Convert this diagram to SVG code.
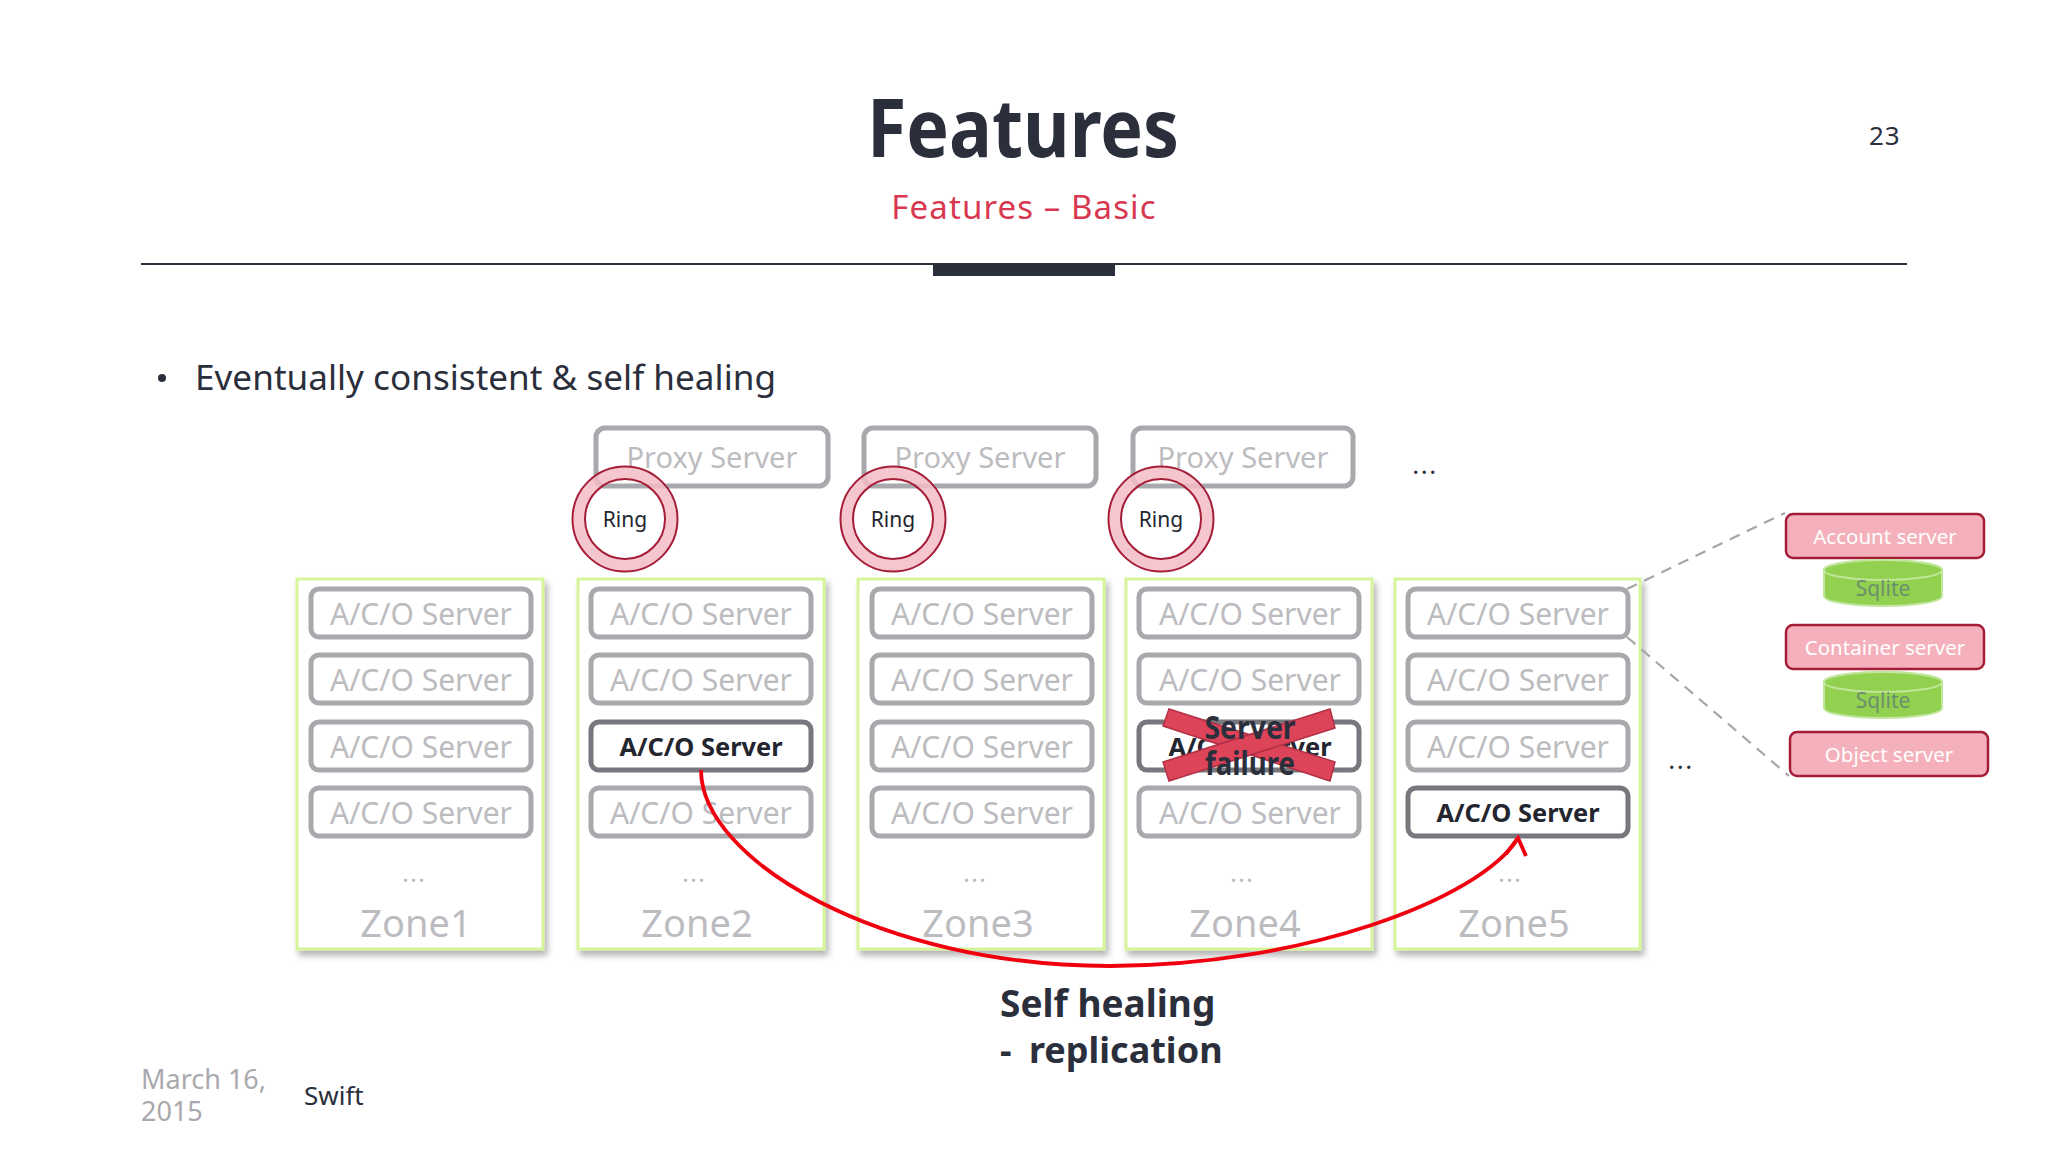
<svg xmlns="http://www.w3.org/2000/svg" width="2048" height="1152" viewBox="0 0 2048 1152">
<style>
text{font-family:"Noto Sans","Open Sans","Liberation Sans",sans-serif;fill:#2b2f3c}
.m{text-anchor:middle}
.zone{fill:#fff;stroke:#d6f59a;stroke-width:3;filter:url(#sh)}
.srv{fill:#fff;stroke:#a9a9ad;stroke-width:5}
.act{stroke:#77777d}
.st{font-size:30px;fill:#bcbcc0;text-anchor:middle}
.pr{font-size:29px}
.bt{font-size:25.4px;font-weight:700;fill:#23252f;text-anchor:middle}
.zl{font-size:38px;fill:#bcbcc0;text-anchor:middle}
.dots{font-size:26px;fill:#bcbcc0;text-anchor:middle;letter-spacing:1px}
.ring{fill:none;stroke:#a51d36;stroke-width:2}
.rb{fill:#f5bcc5;fill-opacity:.85;stroke:none;fill-rule:evenodd}
.rt{font-size:21px;fill:#23252f;text-anchor:middle}
.pk{fill:#f4b1bb;stroke:#a51d36;stroke-width:2.5}
.pt{font-size:20.5px;fill:#fff;text-anchor:middle}
.cy{fill:#92d050;stroke:#bfe69a;stroke-width:2}
.ct{font-size:21px;fill:#6b8f6a;text-anchor:middle}
.dash{fill:none;stroke:#a6a6a6;stroke-width:2.2;stroke-dasharray:11 8}
.x{fill:#dd4459;stroke:#b03045;stroke-width:1.5}
.ft{font-size:27px;fill:#a9a9ad}
.red{fill:none;stroke:#f0000f;stroke-width:3.8}
</style>
<defs>
<filter id="sh" x="-10%" y="-10%" width="125%" height="125%"><feDropShadow dx="3" dy="5" stdDeviation="3" flood-color="#000" flood-opacity=".3"/></filter>
<g id="ringshape"><path class="rb" d="M-52 0a52 52 0 1 0 104 0a52 52 0 1 0 -104 0zM-40 0a40 40 0 1 0 80 0a40 40 0 1 0 -80 0z"/><circle class="ring" r="52.5"/><circle class="ring" r="40"/></g>
</defs>
<rect width="2048" height="1152" fill="#fff"/>
<g id="header">
<text class="m" x="1023" y="157" font-size="80" font-weight="700" textLength="312" lengthAdjust="spacingAndGlyphs">Features</text>
<text class="m" x="1024" y="219" font-size="33" style="fill:#d8384f" letter-spacing="1.1">Features – Basic</text>
<text x="1869" y="145" font-size="26" letter-spacing="1">23</text>
<rect x="141" y="263" width="1766" height="2" fill="#2b2f3c"/>
<rect x="933" y="264" width="182" height="12" fill="#2b2f3c"/>
</g>
<g id="bullet">
<circle cx="162" cy="378" r="4" fill="#2b2f3c"/>
<text x="195" y="390" font-size="35" textLength="581" lengthAdjust="spacingAndGlyphs">Eventually consistent &amp; self healing</text>
</g>
<g id="proxy1"><rect class="srv" x="596" y="428" width="232" height="58" rx="9"/><text class="st pr" x="712" y="468">Proxy Server</text></g>
<g id="proxy2"><rect class="srv" x="864" y="428" width="232" height="58" rx="9"/><text class="st pr" x="980" y="468">Proxy Server</text></g>
<g id="proxy3"><rect class="srv" x="1133" y="428" width="220" height="58" rx="9"/><text class="st pr" x="1243" y="468">Proxy Server</text></g>
<g id="ring1"><use href="#ringshape" x="625" y="519"/><text class="rt" x="625" y="527">Ring</text></g>
<g id="ring2"><use href="#ringshape" x="893" y="519"/><text class="rt" x="893" y="527">Ring</text></g>
<g id="ring3"><use href="#ringshape" x="1161" y="519"/><text class="rt" x="1161" y="527">Ring</text></g>
<text id="dots-top" class="m" x="1425" y="474" font-size="26" letter-spacing="1.5">...</text>
<g id="zone1"><rect class="zone" x="297" y="579" width="246" height="370"/>
<rect class="srv" x="311" y="589" width="220" height="48" rx="8"/><text class="st" x="421" y="625">A/C/O Server</text>
<rect class="srv" x="311" y="655" width="220" height="48" rx="8"/><text class="st" x="421" y="691">A/C/O Server</text>
<rect class="srv" x="311" y="722" width="220" height="48" rx="8"/><text class="st" x="421" y="758">A/C/O Server</text>
<rect class="srv" x="311" y="788" width="220" height="48" rx="8"/><text class="st" x="421" y="824">A/C/O Server</text>
<text class="dots" x="414" y="882">...</text><text class="zl" x="416" y="937">Zone1</text></g>
<g id="zone2"><rect class="zone" x="578" y="579" width="246" height="370"/>
<rect class="srv" x="591" y="589" width="220" height="48" rx="8"/><text class="st" x="701" y="625">A/C/O Server</text>
<rect class="srv" x="591" y="655" width="220" height="48" rx="8"/><text class="st" x="701" y="691">A/C/O Server</text>
<rect class="srv act" x="591" y="722" width="220" height="48" rx="8"/><text class="bt" x="701" y="756">A/C/O Server</text>
<rect class="srv" x="591" y="788" width="220" height="48" rx="8"/><text class="st" x="701" y="824">A/C/O Server</text>
<text class="dots" x="694" y="882">...</text><text class="zl" x="697" y="937">Zone2</text></g>
<g id="zone3"><rect class="zone" x="858" y="579" width="246" height="370"/>
<rect class="srv" x="872" y="589" width="220" height="48" rx="8"/><text class="st" x="982" y="625">A/C/O Server</text>
<rect class="srv" x="872" y="655" width="220" height="48" rx="8"/><text class="st" x="982" y="691">A/C/O Server</text>
<rect class="srv" x="872" y="722" width="220" height="48" rx="8"/><text class="st" x="982" y="758">A/C/O Server</text>
<rect class="srv" x="872" y="788" width="220" height="48" rx="8"/><text class="st" x="982" y="824">A/C/O Server</text>
<text class="dots" x="975" y="882">...</text><text class="zl" x="978" y="937">Zone3</text></g>
<g id="zone4"><rect class="zone" x="1126" y="579" width="246" height="370"/>
<rect class="srv" x="1139" y="589" width="220" height="48" rx="8"/><text class="st" x="1250" y="625">A/C/O Server</text>
<rect class="srv" x="1139" y="655" width="220" height="48" rx="8"/><text class="st" x="1250" y="691">A/C/O Server</text>
<rect class="srv act" x="1139" y="722" width="220" height="48" rx="8"/><text class="bt" x="1250" y="756">A/C/O Server</text>
<rect class="srv" x="1139" y="788" width="220" height="48" rx="8"/><text class="st" x="1250" y="824">A/C/O Server</text>
<text class="dots" x="1242" y="882">...</text><text class="zl" x="1245" y="937">Zone4</text></g>
<g id="zone5"><rect class="zone" x="1395" y="579" width="245" height="370"/>
<rect class="srv" x="1408" y="589" width="220" height="48" rx="8"/><text class="st" x="1518" y="625">A/C/O Server</text>
<rect class="srv" x="1408" y="655" width="220" height="48" rx="8"/><text class="st" x="1518" y="691">A/C/O Server</text>
<rect class="srv" x="1408" y="722" width="220" height="48" rx="8"/><text class="st" x="1518" y="758">A/C/O Server</text>
<rect class="srv act" x="1408" y="788" width="220" height="48" rx="8"/><text class="bt" x="1518" y="822">A/C/O Server</text>
<text class="dots" x="1510" y="882">...</text><text class="zl" x="1514" y="937">Zone5</text></g>
<g id="failure">
<polygon class="x" points="1169,709 1335,762 1330,781 1163,726"/>
<polygon class="x" points="1330,709 1335,728 1169,781 1163,762"/>
<text class="m" x="1250" y="739" font-size="32" font-weight="700" textLength="91" lengthAdjust="spacingAndGlyphs">Server</text>
<text class="m" x="1250" y="775" font-size="32" font-weight="700" textLength="90" lengthAdjust="spacingAndGlyphs">failure</text>
</g>
<text id="dots-right" class="m" x="1681" y="769" font-size="26" letter-spacing="1.5">...</text>
<g id="account"><rect class="pk" x="1786" y="514" width="198" height="44" rx="7"/><text class="pt" x="1885" y="544">Account server</text></g>
<g id="sqlite1"><path class="cy" d="M1824 570v26a59 10 0 0 0 118 0v-26a59 10 0 0 0 -118 0z"/><ellipse class="cy" cx="1883" cy="570" rx="59" ry="10"/><text class="ct" x="1883" y="596">Sqlite</text></g>
<g id="container"><rect class="pk" x="1786" y="625" width="198" height="44" rx="7"/><text class="pt" x="1885" y="655">Container server</text></g>
<g id="sqlite2"><path class="cy" d="M1824 682v26a59 10 0 0 0 118 0v-26a59 10 0 0 0 -118 0z"/><ellipse class="cy" cx="1883" cy="682" rx="59" ry="10"/><text class="ct" x="1883" y="708">Sqlite</text></g>
<g id="object"><rect class="pk" x="1790" y="732" width="198" height="44" rx="7"/><text class="pt" x="1889" y="762">Object server</text></g>
<g id="connectors">
<path class="dash" d="M1627 589L1785 513"/>
<path class="dash" d="M1627 637L1789 776"/>
<path class="red" d="M701 770C701 860 880 966 1110 966C1300 966 1480 900 1518 838"/>
<path class="red" d="M1506 854L1518 838L1526 856"/>
</g>
<g id="healing">
<text x="1000" y="1017" font-size="37" font-weight="700">Self healing</text>
<text x="1000" y="1063" font-size="36" font-weight="700">- <tspan x="1029">replication</tspan></text>
</g>
<g id="footer">
<text class="ft" x="141" y="1089">March 16,</text>
<text class="ft" x="141" y="1121">2015</text>
<text x="304" y="1105" font-size="26">Swift</text>
</g>
</svg>
